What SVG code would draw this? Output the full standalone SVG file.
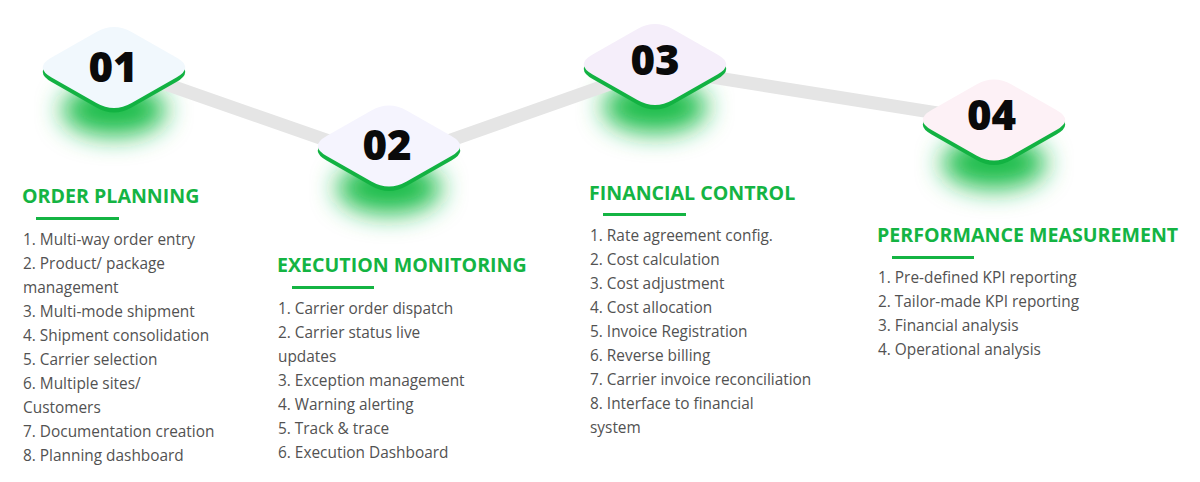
<svg xmlns="http://www.w3.org/2000/svg" width="1200" height="482" viewBox="0 0 1200 482">
<defs>
<style>
.num{font-family:"Open Sans","Liberation Sans",sans-serif;font-weight:800;font-size:42px;fill:#0a0a0a;text-anchor:middle}
.hd{font-family:"Open Sans","Liberation Sans",sans-serif;font-weight:700;font-size:19.6px;fill:#14b443}
.bd{font-family:"Open Sans","Liberation Sans",sans-serif;font-size:15.4px;fill:#525252}
.ul{fill:#14b443}
.base{fill:#12b242}
.glow{fill:#1fbd4b;filter:url(#blur)}
</style>
<filter id="blur" x="-60%" y="-80%" width="220%" height="260%"><feGaussianBlur stdDeviation="13"/></filter>
<path id="dia" d="M-62.4,-10 L-17.6,-35.5 Q0,-45.5 17.6,-35.5 L62.4,-10 Q80,0 62.4,10 L17.6,35.5 Q0,45.5 -17.6,35.5 L-62.4,10 Q-80,0 -62.4,-10 Z"/>
</defs>
<rect width="1200" height="482" fill="#ffffff"/>

<g id="glows">
<ellipse class="glow" cx="114" cy="110" rx="52" ry="26"/>
<ellipse class="glow" cx="389" cy="188" rx="52" ry="26"/>
<ellipse class="glow" cx="655" cy="107" rx="52" ry="26"/>
<ellipse class="glow" cx="994" cy="163" rx="52" ry="26"/>
</g>

<g id="connectors">
<polyline points="114,66 389,162 655,68 994,122" fill="none" stroke="#e5e5e5" stroke-width="13" stroke-linejoin="round"/>
</g>

<g id="node1">
<use href="#dia" class="base" transform="translate(114,72)"/>
<use href="#dia" fill="#f1f8fd" transform="translate(114,67.5)"/>
<text class="num" x="113" y="82">01</text>
</g>
<g id="node2">
<use href="#dia" class="base" transform="translate(389,150.5)"/>
<use href="#dia" fill="#f5f4fe" transform="translate(389,146)"/>
<text class="num" x="387" y="160">02</text>
</g>
<g id="node3">
<use href="#dia" class="base" transform="translate(655,69)"/>
<use href="#dia" fill="#f5eefa" transform="translate(655,64.5)"/>
<text class="num" x="655" y="75">03</text>
</g>
<g id="node4">
<use href="#dia" class="base" transform="translate(994,124.5)"/>
<use href="#dia" fill="#fdf1f6" transform="translate(994,120)"/>
<text class="num" x="991.5" y="130">04</text>
</g>

<g id="col1">
<text class="hd" x="22" y="203">ORDER PLANNING</text>
<rect class="ul" x="36" y="217" width="83" height="3"/>
<text class="bd" x="23" y="245">1. Multi-way order entry</text>
<text class="bd" x="23" y="269">2. Product/ package</text>
<text class="bd" x="23" y="293">management</text>
<text class="bd" x="23" y="317">3. Multi-mode shipment</text>
<text class="bd" x="23" y="341">4. Shipment consolidation</text>
<text class="bd" x="23" y="365">5. Carrier selection</text>
<text class="bd" x="23" y="389">6. Multiple sites/</text>
<text class="bd" x="23" y="413">Customers</text>
<text class="bd" x="23" y="437">7. Documentation creation</text>
<text class="bd" x="23" y="461">8. Planning dashboard</text>
</g>

<g id="col2">
<text class="hd" x="277" y="272">EXECUTION MONITORING</text>
<rect class="ul" x="292" y="286" width="82" height="3"/>
<text class="bd" x="278" y="314">1. Carrier order dispatch</text>
<text class="bd" x="278" y="338">2. Carrier status live</text>
<text class="bd" x="278" y="362">updates</text>
<text class="bd" x="278" y="386">3. Exception management</text>
<text class="bd" x="278" y="410">4. Warning alerting</text>
<text class="bd" x="278" y="434">5. Track &amp; trace</text>
<text class="bd" x="278" y="458">6. Execution Dashboard</text>
</g>

<g id="col3">
<text class="hd" x="589" y="200">FINANCIAL CONTROL</text>
<rect class="ul" x="603" y="213" width="83" height="3"/>
<text class="bd" x="590" y="241">1. Rate agreement config.</text>
<text class="bd" x="590" y="265">2. Cost calculation</text>
<text class="bd" x="590" y="289">3. Cost adjustment</text>
<text class="bd" x="590" y="313">4. Cost allocation</text>
<text class="bd" x="590" y="337">5. Invoice Registration</text>
<text class="bd" x="590" y="361">6. Reverse billing</text>
<text class="bd" x="590" y="385">7. Carrier invoice reconciliation</text>
<text class="bd" x="590" y="409">8. Interface to financial</text>
<text class="bd" x="590" y="433">system</text>
</g>

<g id="col4">
<text class="hd" x="877" y="242">PERFORMANCE MEASUREMENT</text>
<rect class="ul" x="892" y="256" width="82" height="3"/>
<text class="bd" x="878" y="283">1. Pre-defined KPI reporting</text>
<text class="bd" x="878" y="307">2. Tailor-made KPI reporting</text>
<text class="bd" x="878" y="331">3. Financial analysis</text>
<text class="bd" x="878" y="355">4. Operational analysis</text>
</g>
</svg>
